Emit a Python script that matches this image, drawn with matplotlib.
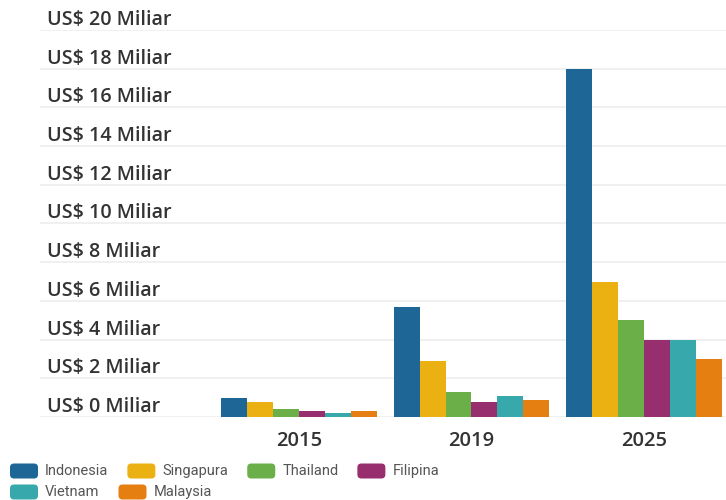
import matplotlib.pyplot as plt
import matplotlib.transforms as mtransforms
from matplotlib.patches import FancyBboxPatch
import numpy as np

# data (US$ miliar)
tahun = ['2015', '2019', '2025']
negara = ['Indonesia', 'Singapura', 'Thailand', 'Filipina', 'Vietnam', 'Malaysia']
indonesia = [1.0, 5.7, 18.0]
singapura = [0.8, 2.9, 7.0]
thailand = [0.4, 1.3, 5.0]
filipina = [0.3, 0.8, 4.0]
vietnam = [0.2, 1.1, 4.0]
malaysia = [0.3, 0.9, 3.0]
y_ticks = list(range(0, 21, 2))
y_labels = ['US$ %d Miliar' % v for v in y_ticks]

warna = ['#1d6696', '#ebb012', '#6aaf48', '#972e6e', '#37a8ab', '#e67f12']

W, H = 726, 500
fig = plt.figure(figsize=(W / 100, H / 100), dpi=100)
ax = fig.add_axes([40 / W, 83 / H, 686 / W, 387 / H])

nilai = [indonesia, singapura, thailand, filipina, vietnam, malaysia]
x = np.arange(len(tahun))
lebar = 0.15
for i, (seri, c) in enumerate(zip(nilai, warna)):
    ax.bar(x + (i - 2.5) * lebar, seri, lebar, color=c, zorder=2)

ax.set_xlim(-1.5, 2.475)
ax.set_ylim(0, 20)
ax.set_yticks(y_ticks)
ax.set_yticklabels([])
ax.tick_params(axis='y', length=0)
ax.grid(axis='y', color='#ededed', linewidth=1.2, zorder=0)
for s in ax.spines.values():
    s.set_visible(False)

# label sumbu y di atas garis grid
trans = ax.get_yaxis_transform() + mtransforms.ScaledTranslation(0, 10 / 100, fig.dpi_scale_trans)
for v, lab in zip(y_ticks, y_labels):
    ax.text(0.01, v, lab, transform=trans, ha='left', va='center',
            fontsize=14.2, fontweight='semibold', color='#333333', family='Open Sans')

ax.set_xticks(x)
ax.set_xticklabels(tahun, fontsize=14.5, fontweight='semibold', color='#333333',
                   family='Open Sans')
ax.tick_params(axis='x', length=0, pad=10)

# legenda manual (kotak sudut bulat)
renderer = fig.canvas.get_renderer()
baris = [(29, negara[:4]), (8, negara[4:])]
k = 0
for yc, nama_list in baris:
    xp = 10
    for nama in nama_list:
        p = FancyBboxPatch((xp / 100, (yc - 7.5) / 100), 0.28, 0.15,
                           boxstyle='round,pad=0,rounding_size=0.04',
                           transform=fig.dpi_scale_trans, facecolor=warna[k],
                           edgecolor='none')
        fig.patches.append(p)
        t = fig.text((xp + 35) / W, yc / H, nama, ha='left', va='center',
                     fontsize=10.5, color='#555555', family='Roboto')
        w = t.get_window_extent(renderer).width
        xp = xp + 35 + w + 19
        k += 1

fig.savefig('out.png', dpi=100)
